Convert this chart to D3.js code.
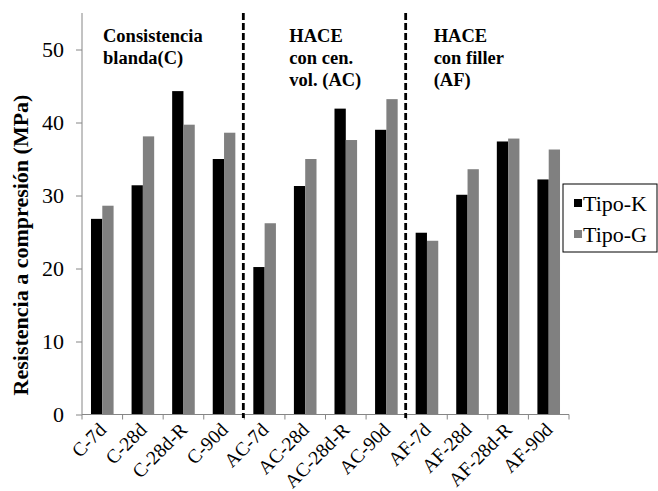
<!DOCTYPE html>
<html>
<head>
<meta charset="utf-8">
<script src="https://cdn.jsdelivr.net/npm/d3@7"></script>
<style>
  body { margin: 0; background: #fff; }
  svg text { font-family: "Liberation Serif", "Times New Roman", serif; }
</style>
</head>
<body>
<script>
var categories = ["C-7d", "C-28d", "C-28d-R", "C-90d",
                  "AC-7d", "AC-28d", "AC-28d-R", "AC-90d",
                  "AF-7d", "AF-28d", "AF-28d-R", "AF-90d"];
var tipoK = [26.8, 31.4, 44.3, 35.0, 20.2, 31.3, 41.9, 39.0, 24.9, 30.1, 37.4, 32.2];
var tipoG = [28.6, 38.1, 39.7, 38.6, 26.2, 35.0, 37.6, 43.2, 23.8, 33.6, 37.8, 36.3];
var series = ["Tipo-K", "Tipo-G"];
var yTicks = [0, 10, 20, 30, 40, 50];
var groupNotes = [
    {at: "C-7d", lines: ["Consistencia", "blanda(C)"]},
    {at: "AC-7d", lines: ["HACE", "con cen.", "vol. (AC)"]},
    {at: "AF-7d", lines: ["HACE", "con filler", "(AF)"]}
];
var dividers = ["AC-7d", "AF-7d"];

var serif = '"Liberation Serif", "Times New Roman", serif';
var width = 658, height = 491;
var svg = d3.select("body").append("svg")
    .attr("width", width)
    .attr("height", height);

var x = d3.scaleBand().domain(categories).range([82, 569]);
var inner = d3.scaleBand().domain(series).range([0, 22.6]);
var y = d3.scaleLinear().domain([0, 55]).range([414.5, 13]);
var color = d3.scaleOrdinal().domain(series).range(["#000000", "#808080"]);

var rows = categories.map(function(c, i) {
    return {cat: c, vals: [{s: "Tipo-K", v: tipoK[i]}, {s: "Tipo-G", v: tipoG[i]}]};
});

// bars
var pad = (x.bandwidth() - 22.6) / 2;
svg.append("g").selectAll("g")
    .data(rows)
    .enter().append("g")
    .attr("transform", d => "translate(" + (x(d.cat) + pad) + ",0)")
    .selectAll("rect")
    .data(d => d.vals)
    .enter().append("rect")
    .attr("x", d => inner(d.s))
    .attr("width", inner.bandwidth())
    .attr("y", d => y(d.v))
    .attr("height", d => y(0) - y(d.v))
    .attr("fill", d => color(d.s));

// y axis
var axisColor = "#868686";
var yAxis = svg.append("g")
    .attr("transform", "translate(82,0)")
    .call(d3.axisLeft(y).tickValues(yTicks).tickSize(6).tickPadding(12));
yAxis.attr("font-family", serif);
yAxis.select(".domain").remove();
yAxis.append("line")
    .attr("y1", y(0)).attr("y2", y(55))
    .attr("stroke", axisColor);
yAxis.selectAll(".tick line").attr("stroke", axisColor);
yAxis.selectAll(".tick text")
    .style("font-family", serif)
    .style("font-size", "22px")
    .attr("fill", "#000");

// x axis with ticks at category boundaries
var xg = svg.append("g");
xg.append("line")
    .attr("x1", 82).attr("x2", 569)
    .attr("y1", y(0)).attr("y2", y(0))
    .attr("stroke", axisColor);
var bounds = categories.map(c => x(c)).concat([x.range()[1]]);
xg.selectAll("line.tk")
    .data(bounds)
    .enter().append("line")
    .attr("class", "tk")
    .attr("x1", d => d).attr("x2", d => d)
    .attr("y1", y(0)).attr("y2", y(0) + 5)
    .attr("stroke", axisColor);
xg.selectAll("text")
    .data(categories)
    .enter().append("text")
    .attr("transform", d => "translate(" + (x(d) + x.bandwidth() / 2 + 5) + "," + (y(0) + 16.5) + ") rotate(-45)")
    .attr("text-anchor", "end")
    .style("font-family", serif)
    .style("font-size", "19.5px")
    .text(d => d);

// dividers
svg.selectAll("line.div")
    .data(dividers)
    .enter().append("line")
    .attr("class", "div")
    .attr("x1", d => x(d) - 1).attr("x2", d => x(d) - 1)
    .attr("y1", 13).attr("y2", 418)
    .attr("stroke", "#000")
    .attr("stroke-width", 2.8)
    .attr("stroke-dasharray", "7,3");

// group annotations
var noteOffset = [21, 45, 27];
groupNotes.forEach(function(g, k) {
    var nx = x(g.at) + noteOffset[k];
    var t = svg.append("text")
        .attr("x", nx)
        .attr("y", 42)
        .style("font-family", serif)
        .style("font-size", "18.5px")
        .style("font-weight", "bold");
    t.selectAll("tspan")
        .data(g.lines)
        .enter().append("tspan")
        .attr("x", nx)
        .attr("dy", (d, i) => i === 0 ? 0 : 22)
        .text(d => d);
});

// y title
svg.append("text")
    .attr("transform", "translate(28,245) rotate(-90)")
    .attr("text-anchor", "middle")
    .style("font-family", serif)
    .style("font-size", "22px")
    .style("font-weight", "bold")
    .text("Resistencia a compresión (MPa)");

// legend
var lg = svg.append("g").attr("transform", "translate(563,184)");
lg.append("rect")
    .attr("width", 94).attr("height", 68)
    .attr("fill", "#fff")
    .attr("stroke", "#000")
    .attr("stroke-width", 1);
var items = lg.selectAll("g.item")
    .data(series)
    .enter().append("g")
    .attr("transform", (d, i) => "translate(11," + (19 + i * 31) + ")");
items.append("rect")
    .attr("y", -4)
    .attr("width", 8).attr("height", 8)
    .attr("fill", d => color(d));
items.append("text")
    .attr("x", 9)
    .attr("y", 7.5)
    .style("font-family", serif)
    .style("font-size", "22px")
    .text(d => d);
</script>
</body>
</html>
